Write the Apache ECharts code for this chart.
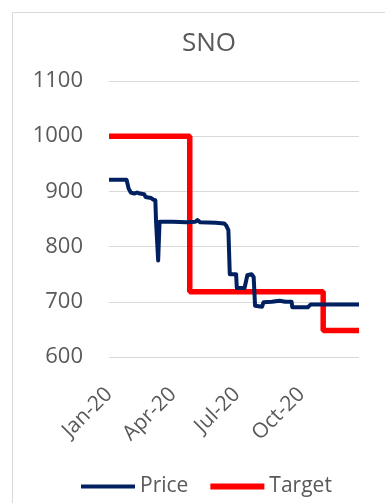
<!DOCTYPE html>
<html>
<head>
<meta charset="utf-8">
<script src="https://cdn.jsdelivr.net/npm/echarts@6/dist/echarts.min.js"></script>
<style>
  html, body { margin: 0; padding: 0; background: #fff; }
  #chart { width: 385px; height: 503px; }
</style>
</head>
<body>
<div id="chart"></div>
<script>
// price series
var priceDates = ['2020-01-01','2020-01-26','2020-01-29','2020-02-01','2020-02-06','2020-02-10','2020-02-14','2020-02-20','2020-02-22','2020-03-01','2020-03-04','2020-03-07','2020-03-08','2020-03-10','2020-03-11','2020-03-13','2020-04-01','2020-04-20','2020-05-03','2020-05-06','2020-05-10','2020-06-01','2020-06-13','2020-06-16','2020-06-19','2020-06-20','2020-06-21','2020-06-30','2020-07-01','2020-07-12','2020-07-16','2020-07-22','2020-07-25','2020-07-27','2020-08-06','2020-08-08','2020-08-20','2020-08-31','2020-09-08','2020-09-17','2020-09-18','2020-10-10','2020-10-14','2020-12-22'];
var priceValues = [921,921,905,898,896,898,896,895,890,888,885,884,845,845,775,845,845,844,845,848,844,843,842,838,830,829,750,750,725,725,748,750,745,693,691,699,700,702,700,700,690,690,695,695];
// target steps
var targetDates = ['2020-01-01','2020-04-25','2020-11-01','2020-12-22'];
var targetValues = [1000,718,648,648];
// x tick labels
var tickDates = ['2020-01-01','2020-04-01','2020-07-01','2020-10-01'];
var tickLabels = ['Jan-20','Apr-20','Jul-20','Oct-20'];

function ts(s){ return +new Date(s + 'T00:00:00Z'); }
function zip(d, v){
    var out = [];
    for (var i = 0; i < d.length; i++) out.push([ts(d[i]), v[i]]);
    return out;
}

var font = '"Open Sans", "Noto Sans", sans-serif';
var grey = '#595959';
var tickTs = tickDates.map(ts);

var chart = echarts.init(document.getElementById('chart'));
var option = {
    animation: false,
    textStyle: { fontFamily: font },
    graphic: [{
        type: 'rect',
        shape: { x: 12.5, y: 12.5, width: 500, height: 600 },
        style: { fill: 'none', stroke: '#d9d9d9', lineWidth: 1 },
        silent: true
    }],
    title: {
        text: 'SNO',
        left: 204,
        top: 26,
        textAlign: 'center',
        textStyle: { fontFamily: font, fontSize: 26, fontWeight: 'normal', color: grey }
    },
    legend: {
        left: 76,
        top: 471,
        itemWidth: 54,
        itemHeight: 14,
        itemGap: 22,
        textStyle: { fontFamily: font, fontSize: 21, color: grey },
        data: [
            // thin bar for price, thicker for target (outer moves keep the 54x14 box)
            { name: 'Price', icon: 'path://M0,0L0,0M0,5L54,5L54,9L0,9ZM0,14L0,14' },
            { name: 'Target', icon: 'path://M0,0L0,0M0,4L54,4L54,10L0,10ZM0,14L0,14' }
        ]
    },
    grid: { left: 109, right: 26, top: 81, bottom: 146 },
    xAxis: {
        type: 'value',
        min: ts('2020-01-01'),
        max: ts('2020-12-22'),
        axisLine: { show: false },
        axisTick: { show: false },
        splitLine: { show: false },
        axisLabel: {
            customValues: tickTs,
            rotate: 45,
            margin: 34,
            fontSize: 21,
            color: grey,
            fontFamily: font,
            formatter: function (v) {
                var i = tickTs.indexOf(v);
                return i < 0 ? '' : tickLabels[i];
            }
        }
    },
    yAxis: {
        type: 'value',
        min: 600,
        max: 1100,
        interval: 100,
        axisLine: { show: false },
        axisTick: { show: false },
        axisLabel: { fontSize: 22, color: grey, margin: 26, fontFamily: font,
            formatter: function (v) { return String(v); } },
        splitLine: { lineStyle: { color: '#d9d9d9', width: 1 } }
    },
    series: [
        {
            name: 'Price',
            type: 'line',
            symbol: 'none',
            data: zip(priceDates, priceValues),
            lineStyle: { color: '#002060', width: 4, join: 'round' },
            itemStyle: { color: '#002060' },
            z: 3
        },
        {
            name: 'Target',
            type: 'line',
            step: 'end',
            symbol: 'none',
            data: zip(targetDates, targetValues),
            lineStyle: { color: '#ff0000', width: 5.5 },
            itemStyle: { color: '#ff0000' },
            z: 2
        }
    ]
};
chart.setOption(option);
</script>
</body>
</html>
